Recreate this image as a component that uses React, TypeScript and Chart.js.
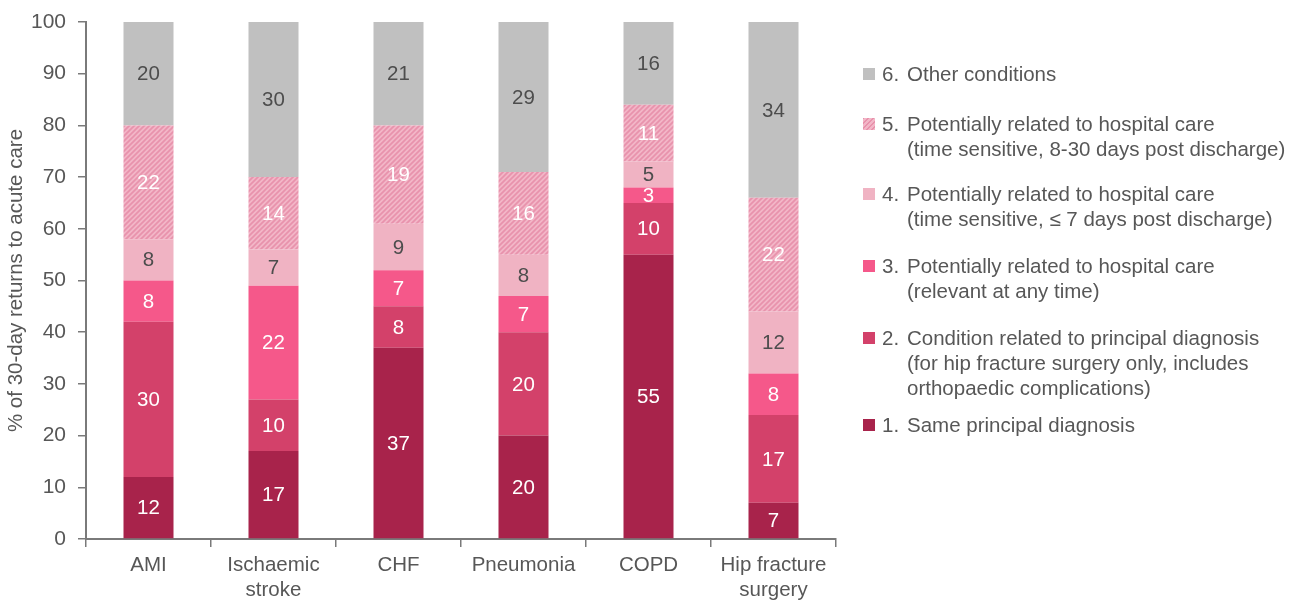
import React, { useEffect, useRef } from "react";
import { Chart, registerables } from "chart.js";

Chart.register(...registerables);

const categories: (string | string[])[] = ["AMI", ["Ischaemic", "stroke"], "CHF", "Pneumonia", "COPD", ["Hip fracture", "surgery"]];
const samePrincipal = [12, 17, 37, 20, 55, 7];
const relatedCondition = [30, 10, 8, 20, 10, 17];
const anyTime = [8, 22, 7, 7, 3, 8];
const within7Days = [8, 7, 9, 8, 5, 12];
const days8to30 = [22, 14, 19, 16, 11, 22];
const otherConditions = [20, 30, 21, 29, 16, 34];
const yTicks = [0, 10, 20, 30, 40, 50, 60, 70, 80, 90, 100];
const yTitle = "% of 30-day returns to acute care";

const legendItems = [
  { num: "6.", lines: ["Other conditions"] },
  { num: "5.", lines: ["Potentially related to hospital care", "(time sensitive, 8-30 days post discharge)"] },
  { num: "4.", lines: ["Potentially related to hospital care", "(time sensitive, \u2264 7 days post discharge)"] },
  { num: "3.", lines: ["Potentially related to hospital care", "(relevant at any time)"] },
  { num: "2.", lines: ["Condition related to principal diagnosis", "(for hip fracture surgery only, includes", "orthopaedic complications)"] },
  { num: "1.", lines: ["Same principal diagnosis"] },
];

const FONT = "'Liberation Sans', Arial, sans-serif";
const TEXT = "#575757";
const AXIS = "#7a7a7a";
const C_DARK = "#A8234B";
const C_MED = "#D3416A";
const C_HOT = "#F5588A";
const C_LIGHT = "#F0B3C3";
const C_GRAY = "#C0C0C0";
const HATCH_BG = "#F2B6C7";
const HATCH_FG = "#E892AC";

function makeHatch(): CanvasPattern | string {
  const s = 5;
  const c = document.createElement("canvas");
  c.width = s;
  c.height = s;
  const x = c.getContext("2d");
  if (!x) return HATCH_BG;
  x.fillStyle = HATCH_BG;
  x.fillRect(0, 0, s, s);
  x.strokeStyle = HATCH_FG;
  x.lineWidth = 1.7;
  x.beginPath();
  x.moveTo(0, s);
  x.lineTo(s, 0);
  x.moveTo(-1, 1);
  x.lineTo(1, -1);
  x.moveTo(s - 1, s + 1);
  x.lineTo(s + 1, s - 1);
  x.stroke();
  return x.createPattern(c, "repeat") || HATCH_BG;
}

const valueLabels = {
  id: "valueLabels",
  afterDatasetsDraw(chart: any) {
    const ctx = chart.ctx;
    ctx.save();
    ctx.font = `20.5px ${FONT}`;
    ctx.textAlign = "center";
    ctx.textBaseline = "middle";
    chart.data.datasets.forEach((ds: any, i: number) => {
      const meta = chart.getDatasetMeta(i);
      meta.data.forEach((el: any, j: number) => {
        const v = ds.data[j];
        if (!v) return;
        const top = Math.max(el.y, chart.chartArea.top);
        const cy = (top + el.base) / 2;
        ctx.fillStyle = ds.labelColor;
        ctx.fillText(String(v), el.x, cy + 1);
      });
    });
    ctx.restore();
  },
};

export default function App() {
  const ref = useRef<HTMLCanvasElement | null>(null);

  useEffect(() => {
    if (!ref.current) return;
    const hatch = makeHatch();
    const chart = new Chart(ref.current, {
      type: "bar",
      data: {
        labels: categories as any,
        datasets: [
          { label: "1", data: samePrincipal, backgroundColor: C_DARK, labelColor: "#ffffff" } as any,
          { label: "2", data: relatedCondition, backgroundColor: C_MED, labelColor: "#ffffff" } as any,
          { label: "3", data: anyTime, backgroundColor: C_HOT, labelColor: "#ffffff" } as any,
          { label: "4", data: within7Days, backgroundColor: C_LIGHT, labelColor: "#4d4d4d" } as any,
          { label: "5", data: days8to30, backgroundColor: hatch, labelColor: "#ffffff" } as any,
          { label: "6", data: otherConditions, backgroundColor: C_GRAY, labelColor: "#4d4d4d" } as any,
        ],
      },
      options: {
        responsive: false,
        animation: false,
        devicePixelRatio: 1,
        layout: { padding: { top: 22, right: 465, bottom: 0, left: 0 } },
        datasets: { bar: { categoryPercentage: 0.8, barPercentage: 0.5, borderWidth: 0 } },
        plugins: { legend: { display: false }, tooltip: { enabled: false } },
        scales: {
          x: {
            stacked: true,
            offset: true,
            grid: { display: true, offset: true, drawOnChartArea: false, drawTicks: true, tickLength: 8, color: AXIS, lineWidth: 1.5 },
            border: { display: true, color: AXIS, width: 2 },
            ticks: { color: TEXT, padding: 6, font: { family: FONT, size: 20.5, lineHeight: 1.22 }, maxRotation: 0, autoSkip: false },
            afterFit: (s: any) => { s.height = 62; s.paddingLeft = 0; s.paddingRight = 0; },
          },
          y: {
            stacked: true,
            min: 0,
            max: 100,
            afterBuildTicks: (s: any) => { s.ticks = yTicks.map((v) => ({ value: v })); },
            grid: { display: true, drawOnChartArea: false, drawTicks: true, tickLength: 8, color: AXIS, lineWidth: 1.5 },
            border: { display: true, color: AXIS, width: 2 },
            ticks: { color: TEXT, padding: 12, font: { family: FONT, size: 21 } },
            title: { display: true, text: yTitle, color: TEXT, font: { family: FONT, size: 20.5 }, padding: { top: 4, bottom: 0 } },
            afterFit: (s: any) => { s.width = 86; s.paddingTop = 0; s.paddingBottom = 0; },
          },
        },
      },
      plugins: [valueLabels],
    });
    return () => chart.destroy();
  }, []);

  const tops = [61, 111, 181, 253, 325, 412];
  const markerColors = [C_GRAY, "hatch", C_LIGHT, C_HOT, C_MED, C_DARK];

  return (
    <div style={{ position: "fixed", left: 0, top: 0, width: 1301, height: 601, background: "#fff", fontFamily: FONT }}>
      <canvas ref={ref} width={1301} height={601} style={{ position: "absolute", left: 0, top: 0, width: 1301, height: 601 }} />
      {legendItems.map((it, i) => (
        <div key={i} style={{ position: "absolute", left: 0, top: tops[i], fontSize: 20.5, lineHeight: "25px", color: TEXT }}>
          <div
            style={{
              position: "absolute",
              left: 863,
              top: 7,
              width: 12,
              height: 12,
              background:
                markerColors[i] === "hatch"
                  ? `repeating-linear-gradient(135deg, ${HATCH_FG} 0px, ${HATCH_FG} 1.3px, ${HATCH_BG} 1.3px, ${HATCH_BG} 3.5px)`
                  : markerColors[i],
            }}
          />
          <div style={{ position: "absolute", left: 882, top: 0, whiteSpace: "nowrap" }}>{it.num}</div>
          <div style={{ position: "absolute", left: 907, top: 0, whiteSpace: "nowrap" }}>
            {it.lines.map((l, k) => (
              <div key={k}>{l}</div>
            ))}
          </div>
        </div>
      ))}
    </div>
  );
}
